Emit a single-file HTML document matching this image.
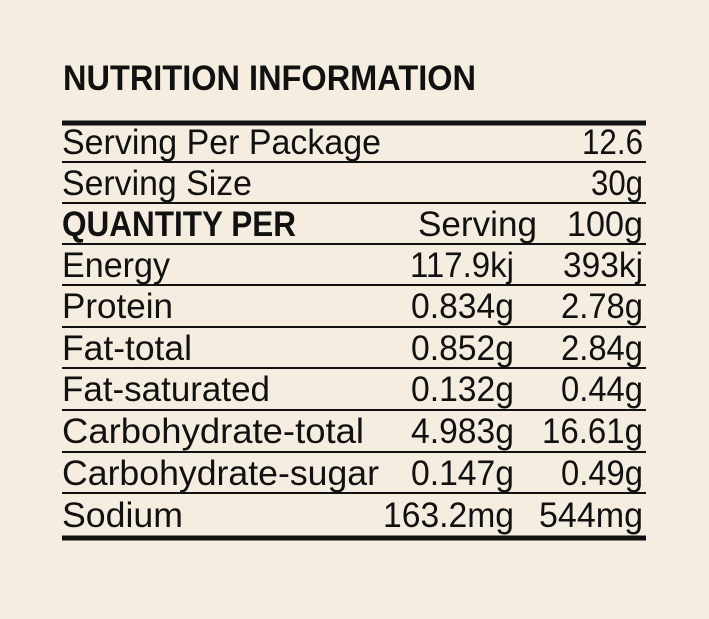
<!DOCTYPE html>
<html><head><meta charset="utf-8"><style>
html,body{margin:0;padding:0;background:#f5eee0;}
svg{display:block}
text{font-family:"Liberation Sans Narrow","Liberation Sans",sans-serif;fill:#111;}
</style></head><body>
<svg width="709" height="619" viewBox="0 0 709 619" xmlns="http://www.w3.org/2000/svg">
<rect width="709" height="619" fill="#f5eee0"/>
<text x="63" y="90" font-size="35" font-weight="bold" textLength="413" lengthAdjust="spacingAndGlyphs">NUTRITION INFORMATION</text>
<g stroke="#111">
<line x1="62" x2="646" y1="123" y2="123" stroke-width="5"/>
<line x1="62" x2="646" y1="162" y2="162" stroke-width="2"/>
<line x1="62" x2="646" y1="203" y2="203" stroke-width="2"/>
<line x1="62" x2="646" y1="244" y2="244" stroke-width="2"/>
<line x1="62" x2="646" y1="285" y2="285" stroke-width="2"/>
<line x1="62" x2="646" y1="327" y2="327" stroke-width="2"/>
<line x1="62" x2="646" y1="368" y2="368" stroke-width="2"/>
<line x1="62" x2="646" y1="410" y2="410" stroke-width="2"/>
<line x1="62" x2="646" y1="452" y2="452" stroke-width="2"/>
<line x1="62" x2="646" y1="493" y2="493" stroke-width="2"/>
<line x1="62" x2="646" y1="538" y2="538" stroke-width="5"/>
</g>
<g font-size="35">
<text x="62" y="154" textLength="319" lengthAdjust="spacingAndGlyphs">Serving Per Package</text>
<text x="643" y="154" text-anchor="end" textLength="61" lengthAdjust="spacingAndGlyphs">12.6</text>
<text x="62" y="195" textLength="190" lengthAdjust="spacingAndGlyphs">Serving Size</text>
<text x="643" y="195" text-anchor="end" textLength="52" lengthAdjust="spacingAndGlyphs">30g</text>
<text x="62" y="236" font-weight="bold" textLength="234" lengthAdjust="spacingAndGlyphs">QUANTITY PER</text>
<text x="537" y="236" text-anchor="end" textLength="119" lengthAdjust="spacingAndGlyphs">Serving</text>
<text x="643" y="236" text-anchor="end" textLength="76" lengthAdjust="spacingAndGlyphs">100g</text>

<text x="62" y="277" textLength="108" lengthAdjust="spacingAndGlyphs">Energy</text>
<text x="514" y="277" text-anchor="end" textLength="104" lengthAdjust="spacingAndGlyphs">117.9kj</text>
<text x="643" y="277" text-anchor="end" textLength="80" lengthAdjust="spacingAndGlyphs">393kj</text>

<text x="62" y="318" textLength="111" lengthAdjust="spacingAndGlyphs">Protein</text>
<text x="514" y="318" text-anchor="end" textLength="103" lengthAdjust="spacingAndGlyphs">0.834g</text>
<text x="643" y="318" text-anchor="end" textLength="82" lengthAdjust="spacingAndGlyphs">2.78g</text>

<text x="62" y="360" textLength="130" lengthAdjust="spacingAndGlyphs">Fat-total</text>
<text x="514" y="360" text-anchor="end" textLength="103" lengthAdjust="spacingAndGlyphs">0.852g</text>
<text x="643" y="360" text-anchor="end" textLength="82" lengthAdjust="spacingAndGlyphs">2.84g</text>

<text x="62" y="401" textLength="208" lengthAdjust="spacingAndGlyphs">Fat-saturated</text>
<text x="514" y="401" text-anchor="end" textLength="103" lengthAdjust="spacingAndGlyphs">0.132g</text>
<text x="643" y="401" text-anchor="end" textLength="82" lengthAdjust="spacingAndGlyphs">0.44g</text>

<text x="62" y="443" textLength="302" lengthAdjust="spacingAndGlyphs">Carbohydrate-total</text>
<text x="514" y="443" text-anchor="end" textLength="103" lengthAdjust="spacingAndGlyphs">4.983g</text>
<text x="643" y="443" text-anchor="end" textLength="101" lengthAdjust="spacingAndGlyphs">16.61g</text>

<text x="62" y="485" textLength="317" lengthAdjust="spacingAndGlyphs">Carbohydrate-sugar</text>
<text x="514" y="485" text-anchor="end" textLength="103" lengthAdjust="spacingAndGlyphs">0.147g</text>
<text x="643" y="485" text-anchor="end" textLength="82" lengthAdjust="spacingAndGlyphs">0.49g</text>

<text x="62" y="527" textLength="121" lengthAdjust="spacingAndGlyphs">Sodium</text>
<text x="514" y="527" text-anchor="end" textLength="131" lengthAdjust="spacingAndGlyphs">163.2mg</text>
<text x="643" y="527" text-anchor="end" textLength="104" lengthAdjust="spacingAndGlyphs">544mg</text>
</g>
</svg>
</body></html>
